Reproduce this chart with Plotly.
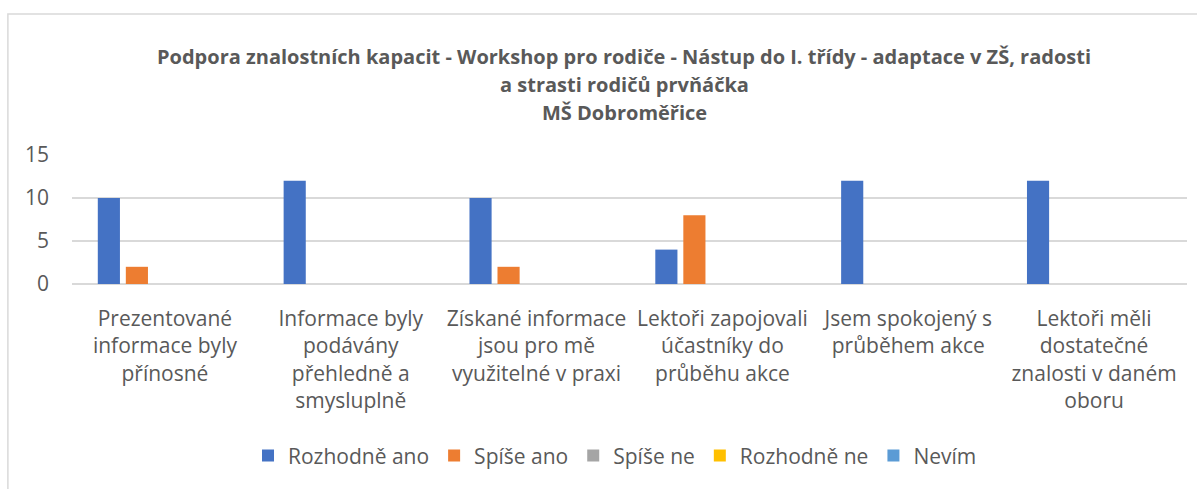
import plotly.graph_objects as go

categories = [
    "Prezentované<br>informace byly<br>přínosné",
    "Informace byly<br>podávány<br>přehledně a<br>smysluplně",
    "Získané informace<br>jsou pro mě<br>využitelné v praxi",
    "Lektoři zapojovali<br>účastníky do<br>průběhu akce",
    "Jsem spokojený s<br>průběhem akce",
    "Lektoři měli<br>dostatečné<br>znalosti v daném<br>oboru",
]
series_names = ["Rozhodně ano", "Spíše ano", "Spíše ne", "Rozhodně ne", "Nevím"]
rozhodne_ano = [10, 12, 10, 4, 12, 12]
spise_ano = [2, 0, 2, 8, 0, 0]
spise_ne = [0, 0, 0, 0, 0, 0]
rozhodne_ne = [0, 0, 0, 0, 0, 0]
nevim = [0, 0, 0, 0, 0, 0]
values = [rozhodne_ano, spise_ano, spise_ne, rozhodne_ne, nevim]
colors = ["#4472C4", "#ED7D31", "#A5A5A5", "#FFC000", "#5B9BD5"]
y_ticks = [0, 5, 10, 15]
title_lines = [
    "Podpora znalostních kapacit - Workshop pro rodiče - Nástup do I. třídy - adaptace v ZŠ, radosti",
    "a strasti rodičů prvňáčka",
    "MŠ Dobroměřice",
]

font_family = "Open Sans, sans-serif"
text_color = "#595959"

fig = go.Figure()
for name, vals, col in zip(series_names, values, colors):
    fig.add_trace(go.Bar(
        name=name, x=categories, y=vals,
        marker=dict(color=col, line=dict(width=0)),
    ))

title_y = [1.760, 1.550, 1.326]
annotations = [
    dict(text="<b>%s</b>" % t, xref="paper", yref="paper", x=0.4955, y=yy,
         xanchor="center", yanchor="middle", showarrow=False,
         font=dict(size=20, color=text_color, family=font_family))
    for t, yy in zip(title_lines, title_y)
]

fig.update_layout(
    width=1197, height=489,
    barmode="group", bargap=0.246, bargroupgap=0.21,
    paper_bgcolor="white", plot_bgcolor="white",
    margin=dict(l=72, r=10, t=155, b=205, autoexpand=False),
    font=dict(family=font_family, color=text_color, size=21),
    annotations=annotations,
    xaxis=dict(
        showgrid=False, showline=False, ticks="", automargin=False,
        tickfont=dict(size=21, color=text_color),
        ticklabelstandoff=20,
    ),
    yaxis=dict(
        range=[0, 15], tickvals=y_ticks, automargin=False,
        showgrid=True, gridcolor="#D9D9D9", gridwidth=1.5,
        zeroline=True, zerolinecolor="#D9D9D9", zerolinewidth=1.5,
        tickfont=dict(size=21, color=text_color),
        ticklabelstandoff=22,
    ),
    legend=dict(
        orientation="h", x=0.487, xanchor="center", y=-1.333, yanchor="middle",
        font=dict(size=21, color=text_color),
        traceorder="normal",
    ),
    shapes=[dict(
        type="rect", xref="paper", yref="paper",
        x0=-0.0575, x1=1.02, y0=-2.0, y1=2.093,
        line=dict(color="#D9D9D9", width=1.5), fillcolor="rgba(0,0,0,0)",
        layer="below",
    )],
)

fig.write_html(
    "out.html",
    config={"displayModeBar": False},
    post_script="document.body.style.margin='0';document.body.style.overflow='hidden';",
)
